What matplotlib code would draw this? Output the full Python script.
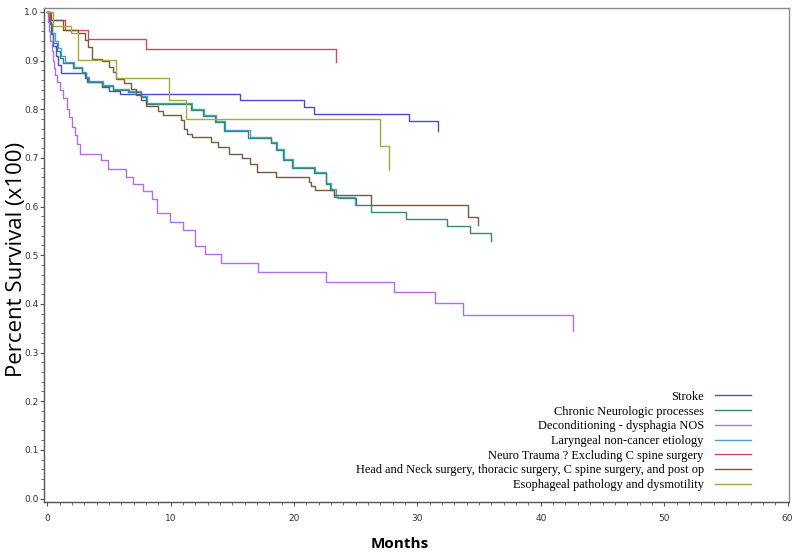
import numpy as np
import matplotlib.pyplot as plt
from matplotlib.ticker import MultipleLocator

# Kaplan-Meier estimates (months, survival)
stroke_t = [0, 0.1, 0.3, 0.5, 0.7, 0.9, 1.1, 3.05, 3.25, 4.4, 5.0, 5.9, 15.6, 20.8, 21.6, 29.3, 31.7]
stroke_s = [1.0, 0.98, 0.955, 0.93, 0.91, 0.89, 0.875, 0.865, 0.855, 0.845, 0.838, 0.831, 0.818, 0.805, 0.79, 0.775, 0.755]

chronic_t = [0, 0.2, 0.4, 0.5, 0.8, 1.0, 1.3, 2.1, 2.8, 3.1, 3.3, 4.4, 5.3, 6.5, 7.6, 8.0, 11.65, 12.65, 13.6,
             14.3, 16.3, 18.1, 18.5, 19.1, 19.8, 21.6, 22.6, 22.9, 23.2, 23.6, 25.0, 26.2, 29.1, 32.4, 34.3, 36.0]
chronic_s = [1.0, 0.975, 0.955, 0.935, 0.92, 0.905, 0.895, 0.885, 0.875, 0.865, 0.855, 0.848, 0.84, 0.835, 0.825, 0.81,
             0.798, 0.787, 0.774, 0.755, 0.741, 0.730, 0.717, 0.695, 0.680, 0.668, 0.647, 0.634, 0.620, 0.617, 0.603,
             0.589, 0.575, 0.560, 0.546, 0.530]

decond_t = [0, 0.05, 0.15, 0.25, 0.35, 0.45, 0.55, 0.65, 0.76, 1.0, 1.3, 1.57, 1.78, 1.98, 2.25, 2.43, 2.65, 4.36,
            4.95, 6.38, 6.97, 7.74, 8.47, 8.87, 9.95, 10.98, 12.0, 12.8, 14.1, 17.1, 22.6, 28.1, 31.4, 33.7, 42.6]
decond_s = [1.0, 0.98, 0.96, 0.94, 0.92, 0.90, 0.885, 0.87, 0.855, 0.84, 0.822, 0.80, 0.784, 0.764, 0.747, 0.729,
            0.708, 0.695, 0.678, 0.661, 0.647, 0.631, 0.616, 0.586, 0.569, 0.551, 0.518, 0.503, 0.483, 0.466, 0.445,
            0.425, 0.401, 0.378, 0.344]

laryn_t = [0, 0.2, 0.4, 0.6, 0.9, 1.1, 1.4, 2.2, 2.8, 3.1, 3.4, 4.5, 5.3, 6.6, 7.6, 8.1, 11.7, 12.7, 13.7,
           14.4, 16.4, 18.1, 18.6, 19.2, 19.9, 21.7, 22.6, 23.0, 23.4, 24.9]
laryn_s = [1.0, 0.975, 0.957, 0.94, 0.925, 0.91, 0.897, 0.887, 0.877, 0.867, 0.857, 0.85, 0.842, 0.837, 0.827, 0.812,
           0.80, 0.789, 0.776, 0.757, 0.743, 0.732, 0.719, 0.697, 0.682, 0.670, 0.649, 0.636, 0.619, 0.603]

neuro_t = [0, 0.1, 1.4, 3.3, 8.0, 23.4]
neuro_s = [1.0, 0.983, 0.963, 0.945, 0.923, 0.897]

headneck_t = [0, 0.3, 1.3, 2.5, 3.05, 3.3, 3.6, 4.4, 5.0, 5.3, 5.6, 6.2, 6.8, 7.2, 7.6, 8.0, 9.0, 9.4, 10.8, 11.1,
              11.3, 11.7, 13.3, 13.8, 14.7, 15.8, 16.4, 17.0, 18.5, 21.2, 21.4, 21.7, 23.2, 26.2, 34.1, 34.9]
headneck_s = [1.0, 0.983, 0.962, 0.957, 0.942, 0.928, 0.904, 0.90, 0.887, 0.877, 0.863, 0.854, 0.842, 0.829, 0.818,
              0.806, 0.796, 0.788, 0.777, 0.76, 0.75, 0.743, 0.733, 0.723, 0.708, 0.699, 0.687, 0.671, 0.661, 0.651,
              0.642, 0.634, 0.623, 0.603, 0.578, 0.563]

esoph_t = [0, 0.5, 1.9, 2.5, 5.6, 9.9, 11.2, 27.0, 27.7]
esoph_s = [1.0, 0.97, 0.957, 0.902, 0.864, 0.819, 0.779, 0.725, 0.675]

labels = ['Stroke', 'Chronic Neurologic processes', 'Deconditioning - dysphagia NOS',
          'Laryngeal non-cancer etiology', 'Neuro Trauma ? Excluding C spine surgery',
          'Head and Neck surgery, thoracic surgery, C spine surgery, and post op',
          'Esophageal pathology and dysmotility']
colors = ['#4a4ad6', '#2f8a78', '#b36ef0', '#4aa3d8', '#d24860', '#7a5a3e', '#a8a83a']
zorders = [3, 3, 3, 2, 3, 3, 3]

series = [(stroke_t, stroke_s), (chronic_t, chronic_s), (decond_t, decond_s), (laryn_t, laryn_s),
          (neuro_t, neuro_s), (headneck_t, headneck_s), (esoph_t, esoph_s)]

fig = plt.figure(figsize=(8, 5.52), dpi=100)
ax = fig.add_axes([0.055, 0.0906, 0.931, 0.895])

for (t, s), lab, c, z in zip(series, labels, colors, zorders):
    ax.step(t, s, where='post', color=c, lw=1.0, label=lab, zorder=z)

ax.set_xlim(-0.27, 60.1)
ax.set_ylim(-0.007, 1.008)
ax.xaxis.set_major_locator(MultipleLocator(10))
ax.xaxis.set_minor_locator(MultipleLocator(1))
ax.yaxis.set_major_locator(MultipleLocator(0.1))
ax.yaxis.set_minor_locator(MultipleLocator(0.02))
ax.yaxis.set_major_formatter(plt.FormatStrFormatter('%.1f'))

for sp in ax.spines.values():
    sp.set_color('#8a8a8a')
    sp.set_linewidth(1.0)
ax.spines['left'].set_color('#555555')
ax.spines['bottom'].set_color('#555555')
ax.tick_params(which='major', length=3, width=0.8, color='#555555', labelsize=6.5, labelcolor='#333333', pad=1)
ax.tick_params(which='minor', length=2, width=0.6, color='#555555')
ax.tick_params(axis='x', pad=6)

ax.set_ylabel('Percent Survival (x100)', fontsize=16, family='Open Sans')
ax.yaxis.set_label_coords(-0.023, 0.49)
ax.set_xlabel('Months', fontsize=11, family='Open Sans', fontweight='bold')
ax.xaxis.set_label_coords(0.478, -0.07)

ax.legend(loc='lower right', bbox_to_anchor=(0.949, 0.022), frameon=False, markerfirst=False,
          prop={'family': 'Liberation Serif', 'size': 8.9}, borderpad=0, borderaxespad=0,
          handlelength=2.9, handletextpad=0.9, labelspacing=0.22)

fig.savefig('out.png', dpi=100)
